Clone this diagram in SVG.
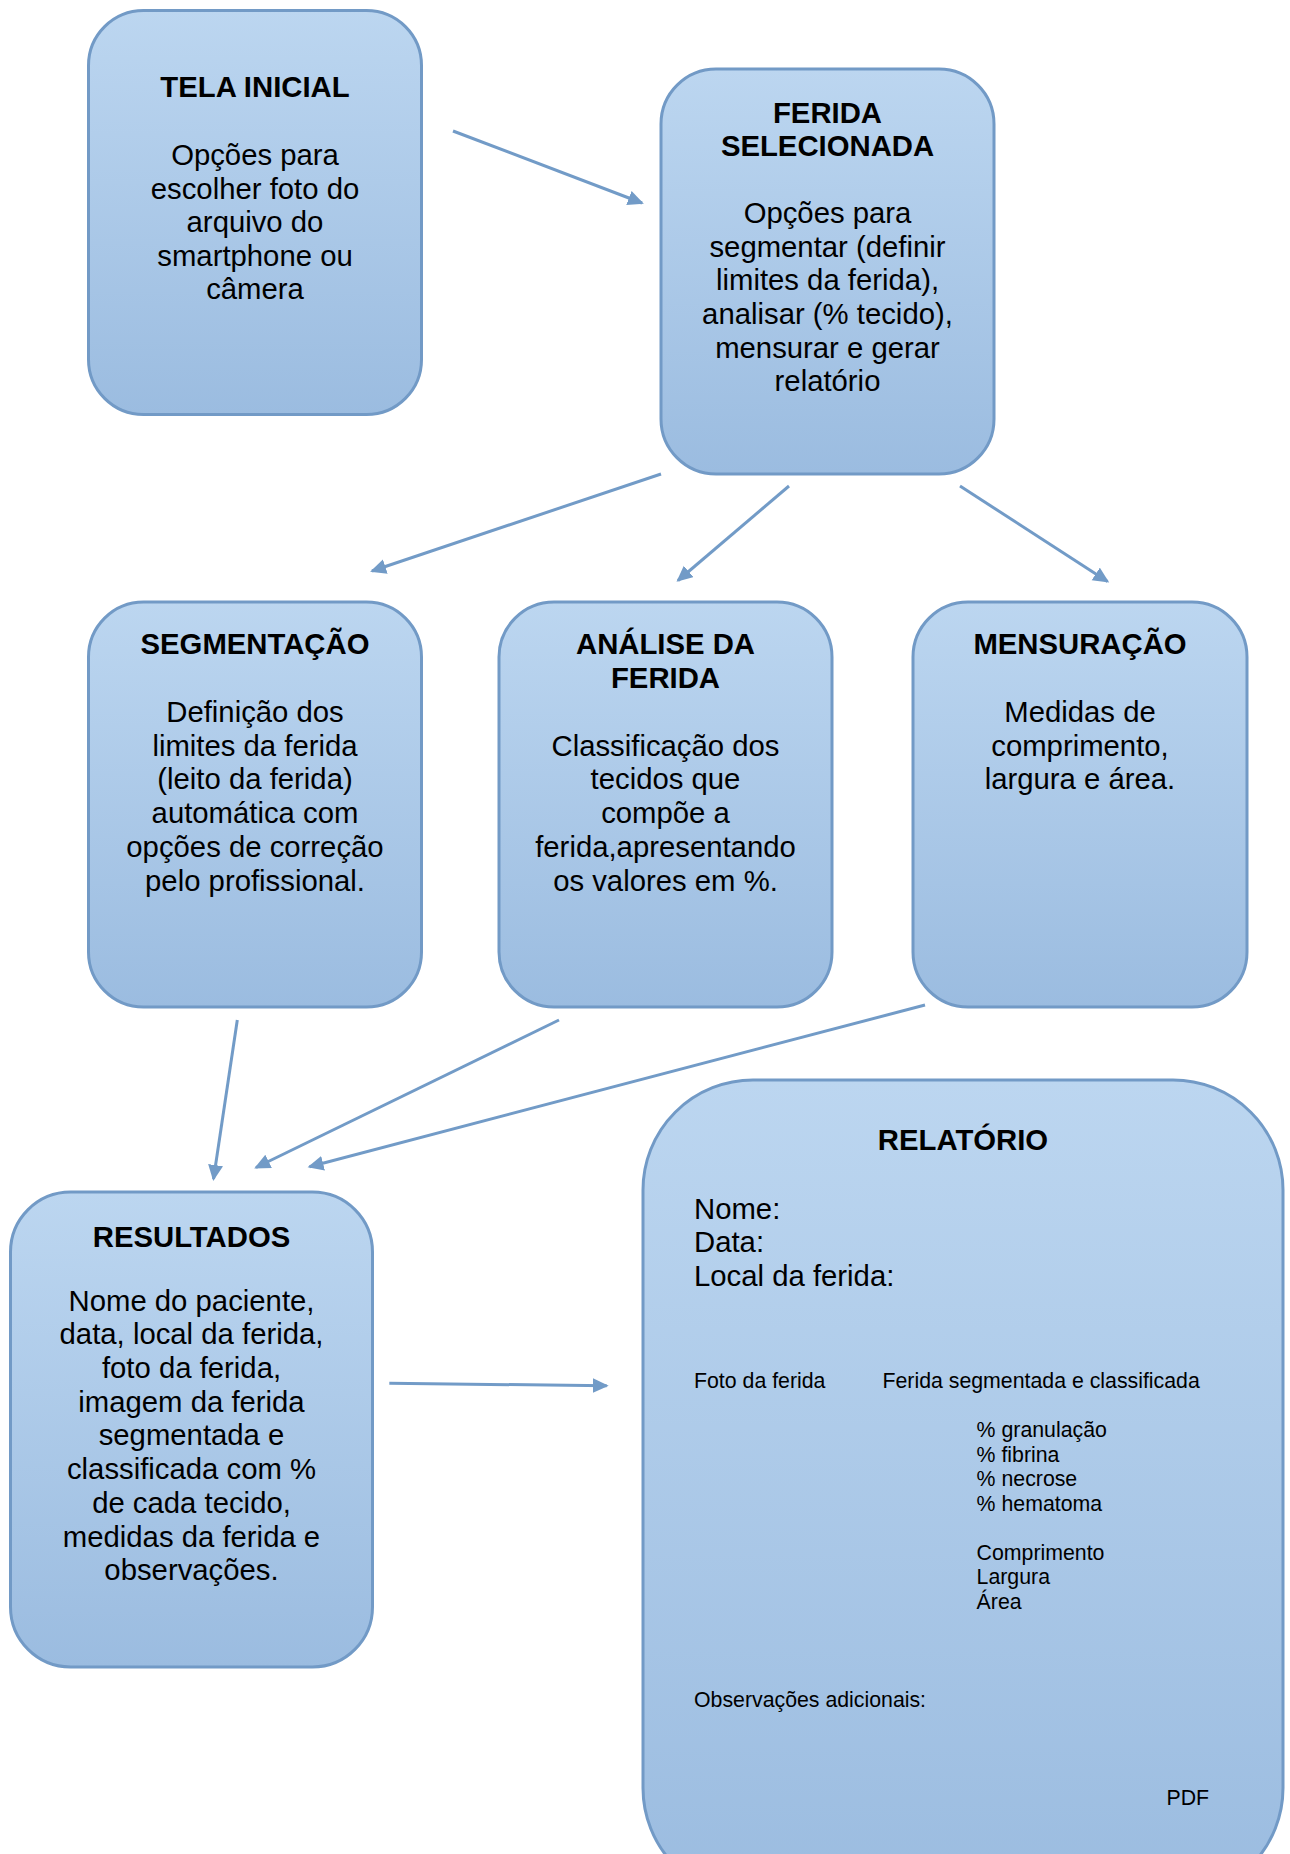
<svg xmlns="http://www.w3.org/2000/svg" width="1290" height="1854" viewBox="0 0 1290 1854">
<defs>
<linearGradient id="g" x1="0" y1="0" x2="0" y2="1">
<stop offset="0" stop-color="#BCD6F0"/>
<stop offset="1" stop-color="#9BBCE0"/>
</linearGradient>
<marker id="ah" markerUnits="userSpaceOnUse" markerWidth="18" markerHeight="16" refX="14" refY="7.5" orient="auto">
<path d="M0,0 L16,7.5 L0,15 z" fill="#729BC7"/>
</marker>
<style>
.box{fill:url(#g);stroke:#729AC6;stroke-width:3}
.t{font-family:"Liberation Sans",Arial,sans-serif;font-size:29.3px;fill:#000;text-anchor:middle}
.b{font-weight:bold}
.l{font-family:"Liberation Sans",Arial,sans-serif;font-size:29.3px;fill:#000}
.s{font-family:"Liberation Sans",Arial,sans-serif;font-size:21.3px;fill:#000}
.c{fill:none;stroke:#729BC7;stroke-width:3;marker-end:url(#ah)}
</style>
</defs>
<rect width="1290" height="1854" fill="#fff"/>

<g id="connectors">
<line class="c" x1="453" y1="131" x2="642" y2="203"/>
<line class="c" x1="661" y1="474" x2="372" y2="571"/>
<line class="c" x1="789" y1="486" x2="678" y2="580.5"/>
<line class="c" x1="960" y1="486" x2="1107.5" y2="581.5"/>
<line class="c" x1="237.3" y1="1020" x2="213.5" y2="1179"/>
<line class="c" x1="559" y1="1020" x2="256" y2="1167.5"/>
<line class="c" x1="925" y1="1005" x2="309.5" y2="1166.7"/>
<line class="c" x1="389.3" y1="1383.3" x2="606.7" y2="1385.7"/>
</g>

<g id="tela-inicial">
<rect class="box" x="88.5" y="10.5" width="333" height="404" rx="55" ry="55"/>
<text class="t b" x="255" y="97">TELA INICIAL</text>
<text class="t" x="255" y="165">Opções para</text>
<text class="t" x="255" y="198.5">escolher foto do</text>
<text class="t" x="255" y="232">arquivo do</text>
<text class="t" x="255" y="265.5">smartphone ou</text>
<text class="t" x="255" y="299">câmera</text>
</g>

<g id="ferida-selecionada">
<rect class="box" x="661" y="69" width="333" height="405" rx="55" ry="55"/>
<text class="t b" x="827.5" y="122.7">FERIDA</text>
<text class="t b" x="827.5" y="156">SELECIONADA</text>
<text class="t" x="827.5" y="223">Opções para</text>
<text class="t" x="827.5" y="256.7">segmentar (definir</text>
<text class="t" x="827.5" y="290.4">limites da ferida),</text>
<text class="t" x="827.5" y="324">analisar (% tecido),</text>
<text class="t" x="827.5" y="357.7">mensurar e gerar</text>
<text class="t" x="827.5" y="391.3">relatório</text>
</g>

<g id="segmentacao">
<rect class="box" x="88.5" y="602" width="333" height="405" rx="55" ry="55"/>
<text class="t b" x="255" y="654">SEGMENTAÇÃO</text>
<text class="t" x="255" y="721.7">Definição dos</text>
<text class="t" x="255" y="755.5">limites da ferida</text>
<text class="t" x="255" y="789.3">(leito da ferida)</text>
<text class="t" x="255" y="823.1">automática com</text>
<text class="t" x="255" y="856.8">opções de correção</text>
<text class="t" x="255" y="890.5">pelo profissional.</text>
</g>

<g id="analise-da-ferida">
<rect class="box" x="499" y="602" width="333" height="405" rx="55" ry="55"/>
<text class="t b" x="665.5" y="654">ANÁLISE DA</text>
<text class="t b" x="665.5" y="688">FERIDA</text>
<text class="t" x="665.5" y="755.5">Classificação dos</text>
<text class="t" x="665.5" y="789.3">tecidos que</text>
<text class="t" x="665.5" y="823.1">compõe a</text>
<text class="t" x="665.5" y="856.8">ferida,apresentando</text>
<text class="t" x="665.5" y="890.5">os valores em %.</text>
</g>

<g id="mensuracao">
<rect class="box" x="913" y="602" width="334" height="405" rx="55" ry="55"/>
<text class="t b" x="1080" y="654">MENSURAÇÃO</text>
<text class="t" x="1080" y="721.7">Medidas de</text>
<text class="t" x="1080" y="755.5">comprimento,</text>
<text class="t" x="1080" y="789.3">largura e área.</text>
</g>

<g id="resultados">
<rect class="box" x="10.5" y="1192" width="362" height="475" rx="60" ry="60"/>
<text class="t b" x="191.5" y="1247">RESULTADOS</text>
<text class="t" x="191.5" y="1310.5">Nome do paciente,</text>
<text class="t" x="191.5" y="1344.2">data, local da ferida,</text>
<text class="t" x="191.5" y="1378">foto da ferida,</text>
<text class="t" x="191.5" y="1411.7">imagem da ferida</text>
<text class="t" x="191.5" y="1445.4">segmentada e</text>
<text class="t" x="191.5" y="1479.1">classificada com %</text>
<text class="t" x="191.5" y="1512.8">de cada tecido,</text>
<text class="t" x="191.5" y="1546.5">medidas da ferida e</text>
<text class="t" x="191.5" y="1580.2">observações.</text>
</g>

<g id="relatorio">
<rect class="box" x="643" y="1080" width="640" height="818" rx="110" ry="110"/>
<text class="t b" x="963" y="1150">RELATÓRIO</text>
<text class="l" x="694" y="1218.5">Nome:</text>
<text class="l" x="694" y="1252">Data:</text>
<text class="l" x="694" y="1285.5">Local da ferida:</text>
<text class="s" x="694" y="1387.5">Foto da ferida</text>
<text class="s" x="882.5" y="1387.5">Ferida segmentada e classificada</text>
<text class="s" x="976.6" y="1437">% granulação</text>
<text class="s" x="976.6" y="1461.5">% fibrina</text>
<text class="s" x="976.6" y="1486">% necrose</text>
<text class="s" x="976.6" y="1510.5">% hematoma</text>
<text class="s" x="976.6" y="1559.5">Comprimento</text>
<text class="s" x="976.6" y="1584">Largura</text>
<text class="s" x="976.6" y="1608.5">Área</text>
<text class="s" x="694" y="1706.5">Observações adicionais:</text>
<text class="s" x="1166.5" y="1805">PDF</text>
</g>
</svg>
